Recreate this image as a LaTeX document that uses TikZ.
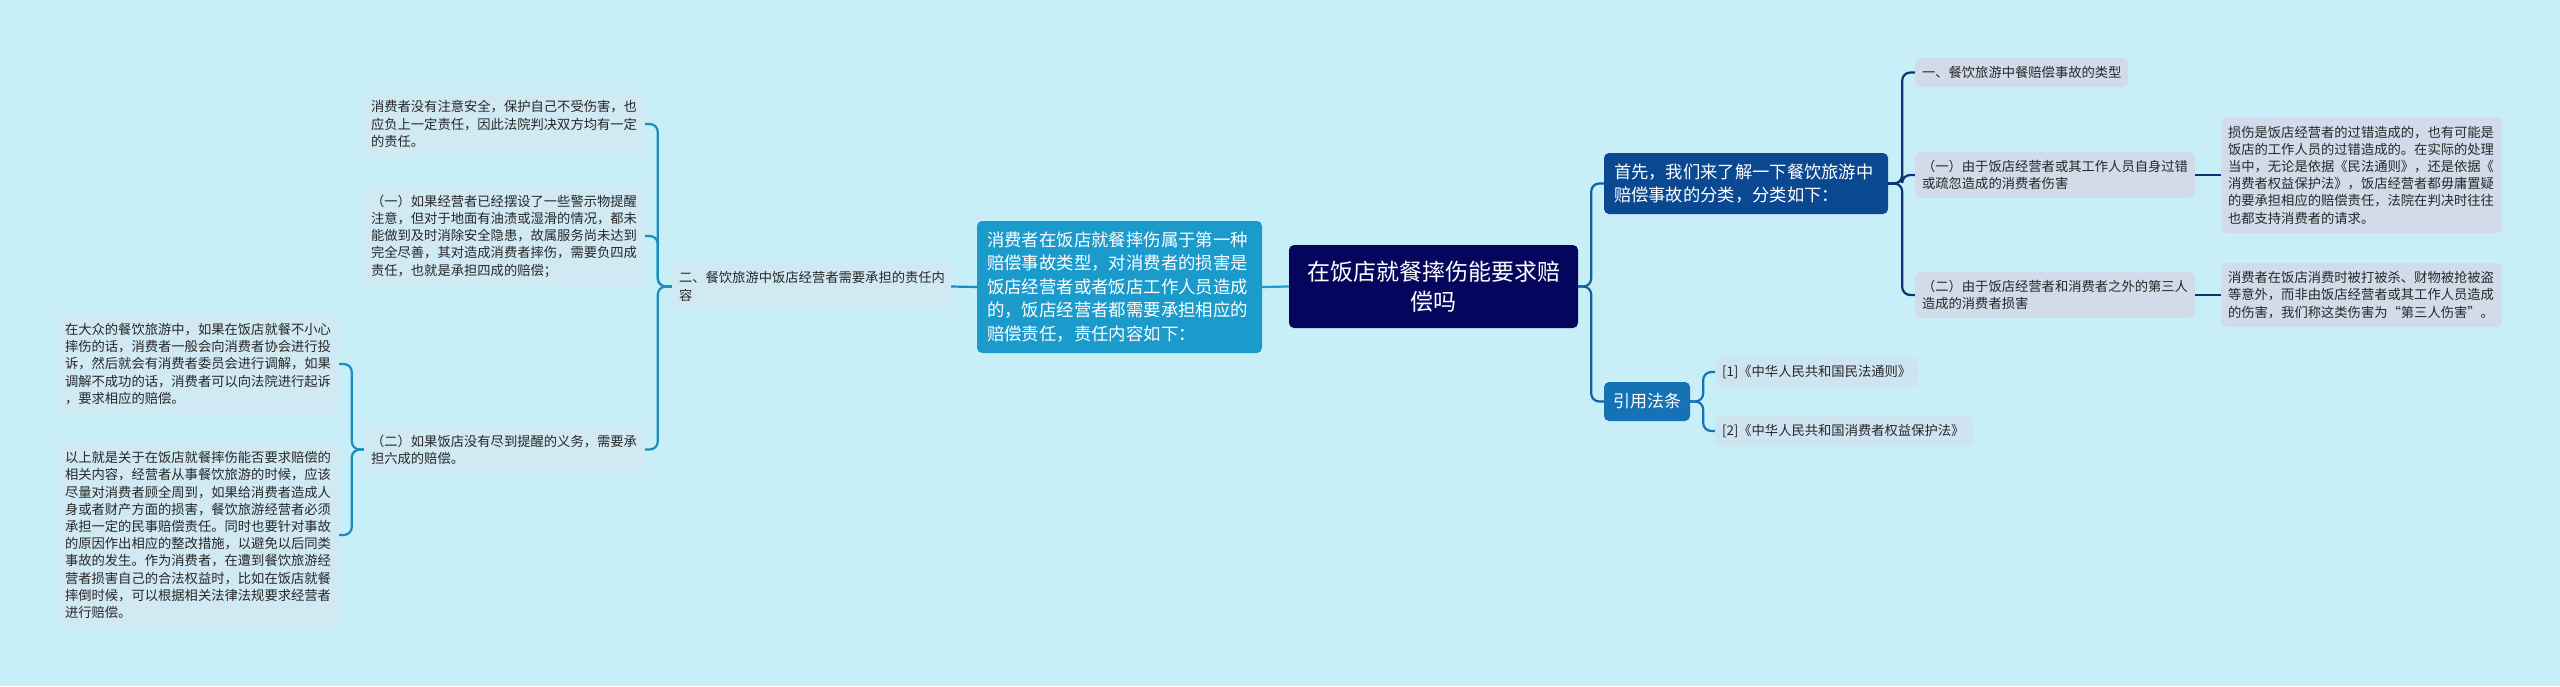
\documentclass[tikz,border=0pt]{standalone}
\usepackage{fontspec}
\setmainfont{Noto Sans CJK SC}
\definecolor{bg}{RGB}{200,239,247}
\definecolor{cRoot}{RGB}{3,6,92}
\definecolor{cLone}{RGB}{26,155,204}
\definecolor{cShou}{RGB}{10,72,145}
\definecolor{cYin}{RGB}{21,114,180}
\definecolor{cRline}{RGB}{18,98,160}
\definecolor{cLline}{RGB}{27,140,190}
\definecolor{cSline}{RGB}{10,52,118}
\definecolor{leafL}{RGB}{208,233,242}
\definecolor{leafS}{RGB}{209,219,233}
\definecolor{leafY}{RGB}{206,228,240}
\definecolor{txt}{RGB}{40,40,40}
\tikzset{
  box/.style={rounded corners=5pt, inner xsep=7pt, inner ysep=0pt, align=left, anchor=center},
  leafbox/.style={box, text=txt, font=\fontsize{13.3}{17.2}\selectfont},
  lleaf/.style={leafbox, fill=leafL},
  sleaf/.style={leafbox, fill=leafS},
  yleaf/.style={leafbox, fill=leafY},
  conn/.style={line width=2.2pt, rounded corners=8pt},
}
\begin{document}
\begin{tikzpicture}[x=1pt,y=-1pt]
\fill[bg] (0,0) rectangle (2560,686);
\useasboundingbox (0,0) rectangle (2560,686);

% root
\node[box, fill=cRoot, text=white, align=center, font=\fontsize{23}{30}\selectfont,
  minimum width=289pt, minimum height=83pt, text width=275pt] (root) at (1433.5,286.5)
  {在饭店就餐摔伤能要求赔\\偿吗};

% left level 1
\node[box, fill=cLone, text=white, font=\fontsize{17.4}{23.5}\selectfont, inner xsep=10pt,
  minimum width=285pt, minimum height=132pt, text width=265pt] (lone) at (1119.5,287)
  {消费者在饭店就餐摔伤属于第一种\\赔偿事故类型，对消费者的损害是\\饭店经营者或者饭店工作人员造成\\的，饭店经营者都需要承担相应的\\赔偿责任，责任内容如下：};

% left level 2
\node[lleaf, minimum width=279pt, minimum height=47pt, text width=265pt] (ltwo) at (811.5,286.5)
  {二、餐饮旅游中饭店经营者需要承担的责任内\\容};

% left level 3
\node[lleaf, minimum width=281pt, minimum height=62pt, text width=267pt] (la) at (504.5,124)
  {消费者没有注意安全，保护自己不受伤害，也\\应负上一定责任，因此法院判决双方均有一定\\的责任。};
\node[lleaf, minimum width=281pt, minimum height=98pt, text width=267pt] (lb) at (504.5,236)
  {（一）如果经营者已经摆设了一些警示物提醒\\注意，但对于地面有油渍或湿滑的情况，都未\\能做到及时消除安全隐患，故属服务尚未达到\\完全尽善，其对造成消费者摔伤，需要负四成\\责任，也就是承担四成的赔偿；};
\node[lleaf, minimum width=281pt, minimum height=45pt, text width=267pt] (lc) at (504.5,449.5)
  {（二）如果饭店没有尽到提醒的义务，需要承\\担六成的赔偿。};

% left level 4
\node[lleaf, minimum width=281pt, minimum height=98pt, text width=267pt] (ld) at (198.5,364)
  {在大众的餐饮旅游中，如果在饭店就餐不小心\\摔伤的话，消费者一般会向消费者协会进行投\\诉，然后就会有消费者委员会进行调解，如果\\调解不成功的话，消费者可以向法院进行起诉\\，要求相应的赔偿。};
\node[lleaf, minimum width=281pt, minimum height=184pt, text width=267pt] (le) at (198.5,535)
  {以上就是关于在饭店就餐摔伤能否要求赔偿的\\相关内容，经营者从事餐饮旅游的时候，应该\\尽量对消费者顾全周到，如果给消费者造成人\\身或者财产方面的损害，餐饮旅游经营者必须\\承担一定的民事赔偿责任。同时也要针对事故\\的原因作出相应的整改措施，以避免以后同类\\事故的发生。作为消费者，在遭到餐饮旅游经\\营者损害自己的合法权益时，比如在饭店就餐\\摔倒时候，可以根据相关法律法规要求经营者\\进行赔偿。};

% right level 1
\node[box, fill=cShou, text=white, font=\fontsize{17.3}{23.3}\selectfont, inner xsep=10pt,
  minimum width=284pt, minimum height=61pt, text width=264pt] (shou) at (1746,183.5)
  {首先，我们来了解一下餐饮旅游中\\赔偿事故的分类，分类如下：};
\node[box, fill=cYin, text=white, font=\fontsize{17}{22}\selectfont, align=center, inner xsep=0pt,
  minimum width=86pt, minimum height=39pt, text width=86pt] (yin) at (1647,401.5)
  {引用法条};

% right level 2
\node[sleaf, minimum width=213pt, minimum height=29pt, text width=199pt] (sa) at (2021.5,72.5)
  {一、餐饮旅游中餐赔偿事故的类型};
\node[sleaf, minimum width=280pt, minimum height=46pt, text width=266pt] (sb) at (2055,175)
  {（一）由于饭店经营者或其工作人员自身过错\\或疏忽造成的消费者伤害};
\node[sleaf, minimum width=280pt, minimum height=46pt, text width=266pt] (sc) at (2055,295)
  {（二）由于饭店经营者和消费者之外的第三人\\造成的消费者损害};

% right level 3
\node[sleaf, minimum width=281pt, minimum height=116pt, text width=267pt] (sd) at (2361.5,175)
  {损伤是饭店经营者的过错造成的，也有可能是\\饭店的工作人员的过错造成的。在实际的处理\\当中，无论是依据《民法通则》，还是依据《\\消费者权益保护法》，饭店经营者都毋庸置疑\\的要承担相应的赔偿责任，法院在判决时往往\\也都支持消费者的请求。};
\node[sleaf, minimum width=281pt, minimum height=64pt, text width=267pt] (se) at (2361.5,295)
  {消费者在饭店消费时被打被杀、财物被抢被盗\\等意外，而非由饭店经营者或其工作人员造成\\的伤害，我们称这类伤害为“第三人伤害”。};

% law leaves
\node[yleaf, minimum width=203pt, minimum height=30pt, text width=189pt] (ya) at (1816.5,372)
  {[1]《中华人民共和国民法通则》};
\node[yleaf, minimum width=258pt, minimum height=30pt, text width=244pt] (yb) at (1844,431)
  {[2]《中华人民共和国消费者权益保护法》};

% connectors left
\draw[conn, cLone] (root.west) -- (lone.east);
\draw[conn, cLline] (lone.west) -- (ltwo.east);
\foreach \c in {la,lb,lc} \draw[conn, cLline] (ltwo.west) -- ++(-14,0) |- (\c.east);
\foreach \c in {ld,le} \draw[conn, cLline] (lc.west) -- ++(-12,0) |- (\c.east);

% connectors right
\draw[conn, cRline] (root.east) -- ++(13,0) |- (shou.west);
\draw[conn, cRline] (root.east) -- ++(13,0) |- (yin.west);
\foreach \c in {sa,sb,sc} \draw[conn, cSline] (shou.east) -- ++(14,0) |- (\c.west);
\draw[conn, cSline] (sb.east) -- (sd.west);
\draw[conn, cSline] (sc.east) -- (se.west);
\foreach \c in {ya,yb} \draw[conn, cYin] (yin.east) -- ++(13,0) |- (\c.west);
\end{tikzpicture}
\end{document}
